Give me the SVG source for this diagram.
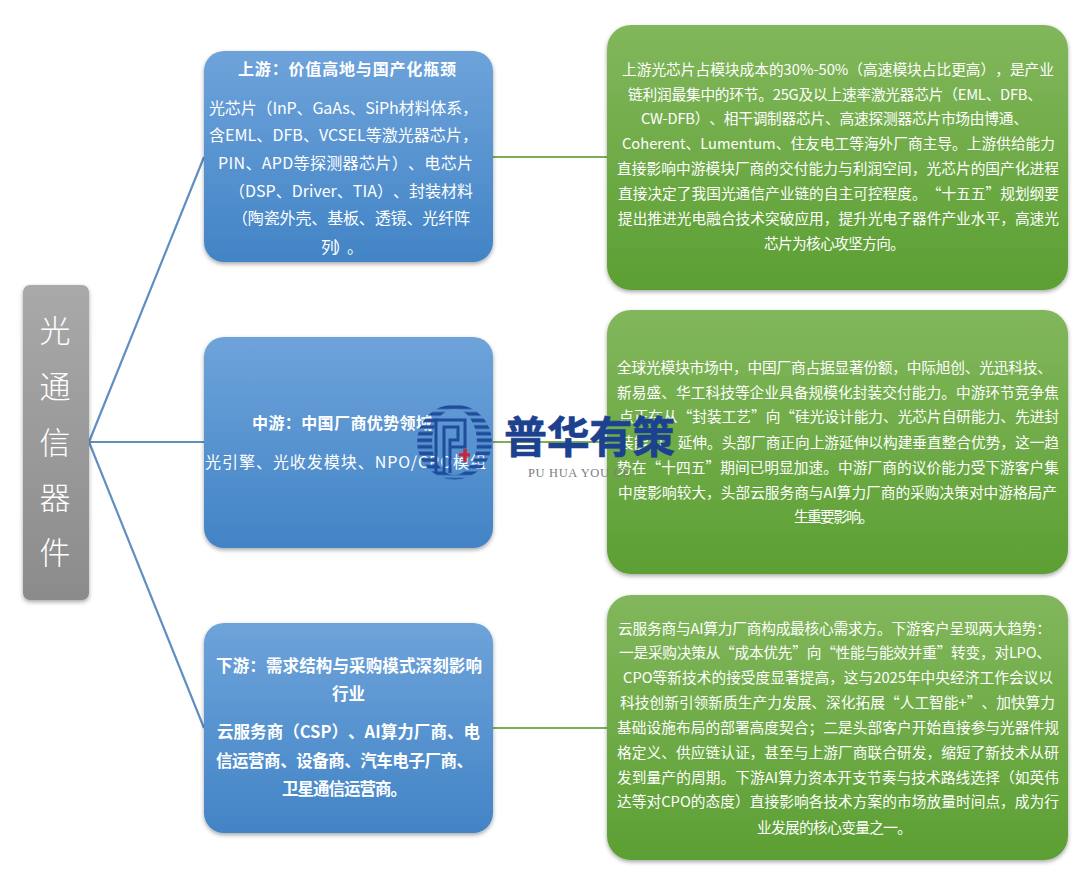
<svg xmlns="http://www.w3.org/2000/svg" width="1080" height="884" viewBox="0 0 1080 884">
<defs>
<linearGradient id="gBlue" x1="0" y1="0" x2="0" y2="1"><stop offset="0" stop-color="#6ea3da"/><stop offset="1" stop-color="#4284c6"/></linearGradient>
<linearGradient id="gGreen" x1="0" y1="0" x2="0" y2="1"><stop offset="0" stop-color="#82b75c"/><stop offset="1" stop-color="#5c9f33"/></linearGradient>
<linearGradient id="gGray" x1="0" y1="0" x2="0" y2="1"><stop offset="0" stop-color="#a9a9a9"/><stop offset="1" stop-color="#8b8b8b"/></linearGradient>
<filter id="sh" x="-10%" y="-10%" width="120%" height="120%"><feDropShadow dx="0" dy="2" stdDeviation="2" flood-color="#000" flood-opacity=".35"/></filter>
<pattern id="stripes" patternUnits="userSpaceOnUse" x="0" y="404" width="10" height="6.6"><rect y="1.4" width="10" height="3.7" fill="#1f4d9c"/></pattern>
</defs>
<style>
text{font-family:"Noto Sans CJK SC","Noto Sans",sans-serif;fill:#fff;text-spacing-trim:space-all;font-feature-settings:"palt" 0,"halt" 0}
.gr{font-size:14.7px}
.bl{font-size:16px}
.b{font-weight:700;font-size:16px}
.m{font-weight:700;font-size:16.5px}
.v{font-size:31px;text-anchor:middle;font-weight:300}
.c1{stroke:#5f90c2;stroke-width:2.2;fill:none}
.c2{stroke:#7dae55;stroke-width:2;fill:none}
.br{fill:url(#gBlue);filter:url(#sh)}
.gn{fill:url(#gGreen);filter:url(#sh)}
</style>
<rect width="1080" height="884" fill="#fff"/>
<g id="connectors">
<path class="c1" d="M89 442L204 157M89 442H204M89 442L204 728"/>
<path class="c2" d="M493 157H607M493 442H607M493 728H607"/>
</g>
<g id="root">
<rect x="23" y="285" width="66" height="315" rx="7" fill="url(#gGray)" filter="url(#sh)"/>
<text class="v" x="55" y="342">光</text><text class="v" x="55" y="398">通</text><text class="v" x="55" y="454">信</text><text class="v" x="55" y="509">器</text><text class="v" x="55" y="564">件</text>
</g>
<g id="upstream">
<rect class="br" x="204" y="51" width="289" height="211" rx="20"/>
<text class="b" x="238" y="75" textLength="218">上游：价值高地与国产化瓶颈</text>
<text class="bl" x="209" y="114" textLength="269">光芯片（InP、GaAs、SiPh材料体系，</text>
<text class="bl" x="209" y="141" textLength="269">含EML、DFB、VCSEL等激光器芯片，</text>
<text class="bl" x="218" y="169" textLength="255">PIN、APD等探测器芯片）、电芯片</text>
<text class="bl" x="229" y="197" textLength="244">（DSP、Driver、TIA）、封装材料</text>
<text class="bl" x="232" y="224" textLength="238">（陶瓷外壳、基板、透镜、光纤阵</text>
<text class="bl" x="321" y="253" textLength="42">列）。</text>
</g>
<g id="midstream">
<rect class="br" x="204" y="337" width="289" height="211" rx="20"/>
<text class="b" x="252" y="429" textLength="180">中游：中国厂商优势领域</text>
<text class="bl" x="205" y="468" textLength="281">光引擎、光收发模块、NPO/CPO模组</text>
</g>
<g id="downstream">
<rect class="br" x="204" y="623" width="289" height="210" rx="20"/>
<text class="m" x="216" y="672" textLength="266">下游：需求结构与采购模式深刻影响</text>
<text class="m" x="332" y="700" textLength="33">行业</text>
<text class="m" x="217" y="738" textLength="263">云服务商（CSP）、AI算力厂商、电</text>
<text class="m" x="216" y="767" textLength="257">信运营商、设备商、汽车电子厂商、</text>
<text class="m" x="282" y="795" textLength="125">卫星通信运营商。</text>
</g>
<g id="upstream-note">
<rect class="gn" x="607" y="25" width="461" height="265" rx="24"/>
<text class="gr" x="622" y="75" textLength="432">上游光芯片占模块成本的30%-50%（高速模块占比更高），是产业</text>
<text class="gr" x="628" y="100" textLength="414">链利润最集中的环节。25G及以上速率激光器芯片（EML、DFB、</text>
<text class="gr" x="641" y="124" textLength="387">CW-DFB）、相干调制器芯片、高速探测器芯片市场由博通、</text>
<text class="gr" x="622" y="149" textLength="433">Coherent、Lumentum、住友电工等海外厂商主导。上游供给能力</text>
<text class="gr" x="617" y="174" textLength="442">直接影响中游模块厂商的交付能力与利润空间，光芯片的国产化进程</text>
<text class="gr" x="618" y="199" textLength="441">直接决定了我国光通信产业链的自主可控程度。“十五五”规划纲要</text>
<text class="gr" x="618" y="224" textLength="441">提出推进光电融合技术突破应用，提升光电子器件产业水平，高速光</text>
<text class="gr" x="764" y="249" textLength="141">芯片为核心攻坚方向。</text>
</g>
<g id="midstream-note">
<rect class="gn" x="607" y="310" width="461" height="264" rx="24"/>
<text class="gr" x="617" y="373" textLength="435">全球光模块市场中，中国厂商占据显著份额，中际旭创、光迅科技、</text>
<text class="gr" x="617" y="398" textLength="442">新易盛、华工科技等企业具备规模化封装交付能力。中游环节竞争焦</text>
<text class="gr" x="619" y="422" textLength="440">点正在从“封装工艺”向“硅光设计能力、光芯片自研能力、先进封</text>
<text class="gr" x="619" y="448" textLength="440">装能力”延伸。头部厂商正向上游延伸以构建垂直整合优势，这一趋</text>
<text class="gr" x="617" y="473" textLength="442">势在“十四五”期间已明显加速。中游厂商的议价能力受下游客户集</text>
<text class="gr" x="618" y="498" textLength="439">中度影响较大，头部云服务商与AI算力厂商的采购决策对中游格局产</text>
<text class="gr" x="794" y="522" textLength="80">生重要影响。</text>
</g>
<g id="downstream-note">
<rect class="gn" x="607" y="595" width="461" height="265" rx="24"/>
<text class="gr" x="618" y="634" textLength="433">云服务商与AI算力厂商构成最核心需求方。下游客户呈现两大趋势：</text>
<text class="gr" x="619" y="658" textLength="432">一是采购决策从“成本优先”向“性能与能效并重”转变，对LPO、</text>
<text class="gr" x="623" y="683" textLength="430">CPO等新技术的接受度显著提高，这与2025年中央经济工作会议以</text>
<text class="gr" x="620" y="708" textLength="435">科技创新引领新质生产力发展、深化拓展“人工智能+”、加快算力</text>
<text class="gr" x="617" y="733" textLength="442">基础设施布局的部署高度契合；二是头部客户开始直接参与光器件规</text>
<text class="gr" x="617" y="758" textLength="442">格定义、供应链认证，甚至与上游厂商联合研发，缩短了新技术从研</text>
<text class="gr" x="617" y="783" textLength="442">发到量产的周期。下游AI算力资本开支节奏与技术路线选择（如英伟</text>
<text class="gr" x="617" y="807" textLength="442">达等对CPO的态度）直接影响各技术方案的市场放量时间点，成为行</text>
<text class="gr" x="757" y="833" textLength="155">业发展的核心变量之一。</text>
</g>
<g id="logo">
<path fill="url(#stripes)" fill-rule="evenodd" d="M417 442a37.5 37.5 0 1 0 75 0a37.5 37.5 0 1 0 -75 0ZM432 442a22.5 33 0 1 0 45 0a22.5 33 0 1 0 -45 0Z"/>
<path d="M436 473V420H465V447H450M444 473V427H458V440H450V473" fill="none" stroke="#1f4d9c" stroke-width="3"/>
<path d="M465 449v13M459 455h11" stroke="#c4263a" stroke-width="3.5" fill="none"/>
<text x="504" y="453" textLength="171" style="font-size:43px;font-weight:700;fill:#1b418f;stroke:#1b418f;stroke-width:.6">普华有策</text>
<text x="528" y="477" textLength="102" style="font-family:'Liberation Serif',serif;font-size:12.5px;fill:#7d7d7d">PU HUA YOU CE</text>
</g>
</svg>
